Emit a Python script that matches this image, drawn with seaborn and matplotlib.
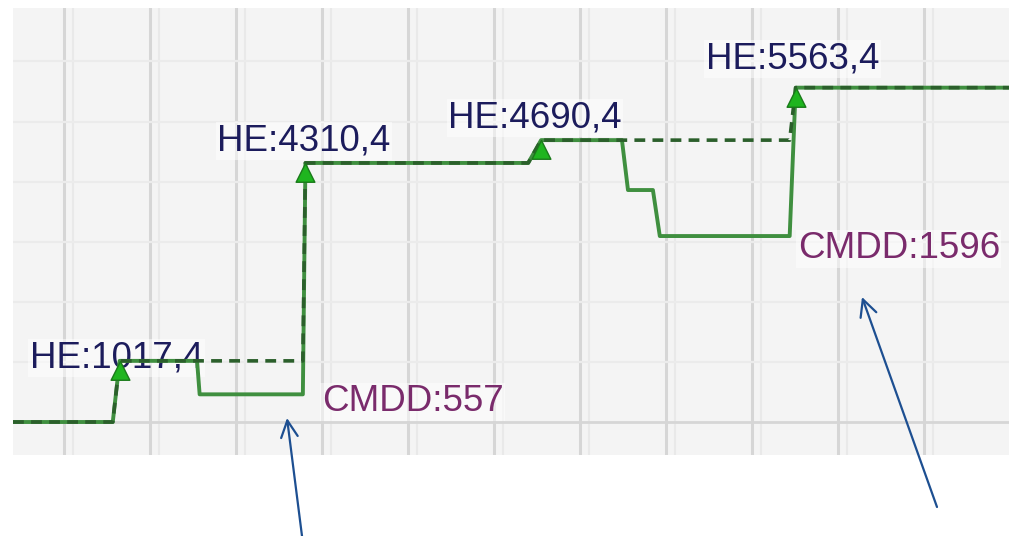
import numpy as np
import matplotlib
matplotlib.use("Agg")
import matplotlib.pyplot as plt
from matplotlib.path import Path
import seaborn as sns

# --- data (x = bar number, y = equity) ---
bars = [4.1, 15.7, 16.5, 25.5, 25.8, 37.8, 38.1, 64.0, 65.5,
        74.9, 75.6, 78.5, 79.3, 94.4, 95.1, 119.9]
equity = [0, 0, 1017.4, 1017.4, 460.4, 460.4, 4310.4, 4310.4, 4690.4,
          4690.4, 3860, 3860, 3094.4, 3094.4, 5563.4, 5563.4]

he_bars = [16.5, 38.1, 65.5, 95.1]
he_values = [1017.4, 4310.4, 4690.4, 5563.4]

cmdd_bars = [37.8, 94.4]
cmdd_lows = [460.4, 3094.4]
cmdd_values = [557, 1596]

# running high equity (dashed line)
high_equity = np.maximum.accumulate(np.array(equity, dtype=float))

sns.set_theme(style="white")
plt.rcParams["font.family"] = ["Liberation Sans", "DejaVu Sans"]

W, H = 1009, 536
fig = plt.figure(figsize=(W / 100, H / 100), dpi=100)
fig.patch.set_facecolor("white")
ax = fig.add_axes([13 / W, 81 / H, 996 / W, 447 / H])
ax.set_facecolor("#f4f4f4")

ax.set_xlim(4.1, 119.9)
ax.set_ylim(-549, 6889)

# grid: vertical lines with a faint partner, very faint horizontal lines
for gx in range(10, 120, 10):
    ax.axvline(gx, color="#d6d6d6", lw=2.2, zorder=0)
    ax.axvline(gx + 1.1, color="#e9e9e9", lw=1.5, zorder=0)
for gy in range(1000, 7000, 1000):
    ax.axhline(gy, color="#ebebeb", lw=1.6, zorder=0)
ax.axhline(0, color="#d6d6d6", lw=2.0, zorder=0)

box = dict(facecolor="white", alpha=0.5, edgecolor="none", pad=1)
he_offsets = [(-90, -7), (-88, 12), (-93, 13), (-90, 19)]
for xb, v, (dx, dy) in zip(he_bars, he_values, he_offsets):
    ax.annotate("HE:" + f"{v:.1f}".replace(".", ","), xy=(xb, v),
                xytext=(dx, dy), textcoords="offset pixels",
                fontsize=26.5, color="#1c1c5c", ha="left", va="baseline",
                bbox=box, zorder=1, annotation_clip=False)

cmdd_offsets = [(19, -17), (8, -22)]
for xb, v, dd, (dx, dy) in zip(cmdd_bars, cmdd_lows, cmdd_values, cmdd_offsets):
    ax.annotate(f"CMDD:{dd}", xy=(xb, v), xytext=(dx, dy),
                textcoords="offset pixels", fontsize=26.5, color="#7a2b6c",
                ha="left", va="baseline", bbox=box,
                zorder=1, annotation_clip=False)

sns.lineplot(x=bars, y=equity, ax=ax, color="#3f8f3f", lw=2.8,
             estimator=None, sort=False, zorder=2)
sns.lineplot(x=bars, y=high_equity, ax=ax, color="#2b5f2b", lw=2.6,
             estimator=None, sort=False, zorder=3, dashes=False,
             linestyle=(0, (3, 2)))

# triangle with its apex on the data point
tri = Path([(0, 0), (-0.5, -1), (0.5, -1), (0, 0)],
           [Path.MOVETO, Path.LINETO, Path.LINETO, Path.CLOSEPOLY])
ax.plot(he_bars, he_values, linestyle="none", marker=tri, markersize=27,
        markerfacecolor="#1fb51f", markeredgecolor="#1a7a1a",
        markeredgewidth=1.0, zorder=4)

sns.despine(ax=ax, left=True, bottom=True, right=True, top=True)
ax.set_xticks([])
ax.set_yticks([])

# pointer arrows from below the chart
arrow = dict(arrowstyle="->,head_length=1.0,head_width=0.5",
             color="#1d4f91", lw=1.6, shrinkA=0, shrinkB=0)
ax.annotate("", xy=(287 / W, 1 - 418 / H), xycoords="figure fraction",
            xytext=(302 / W, 0), textcoords="figure fraction",
            arrowprops=arrow, annotation_clip=False)
ax.annotate("", xy=(862 / W, 1 - 297 / H), xycoords="figure fraction",
            xytext=(937 / W, 1 - 507 / H), textcoords="figure fraction",
            arrowprops=arrow, annotation_clip=False)

fig.savefig("out.png", dpi=100, facecolor="white")
